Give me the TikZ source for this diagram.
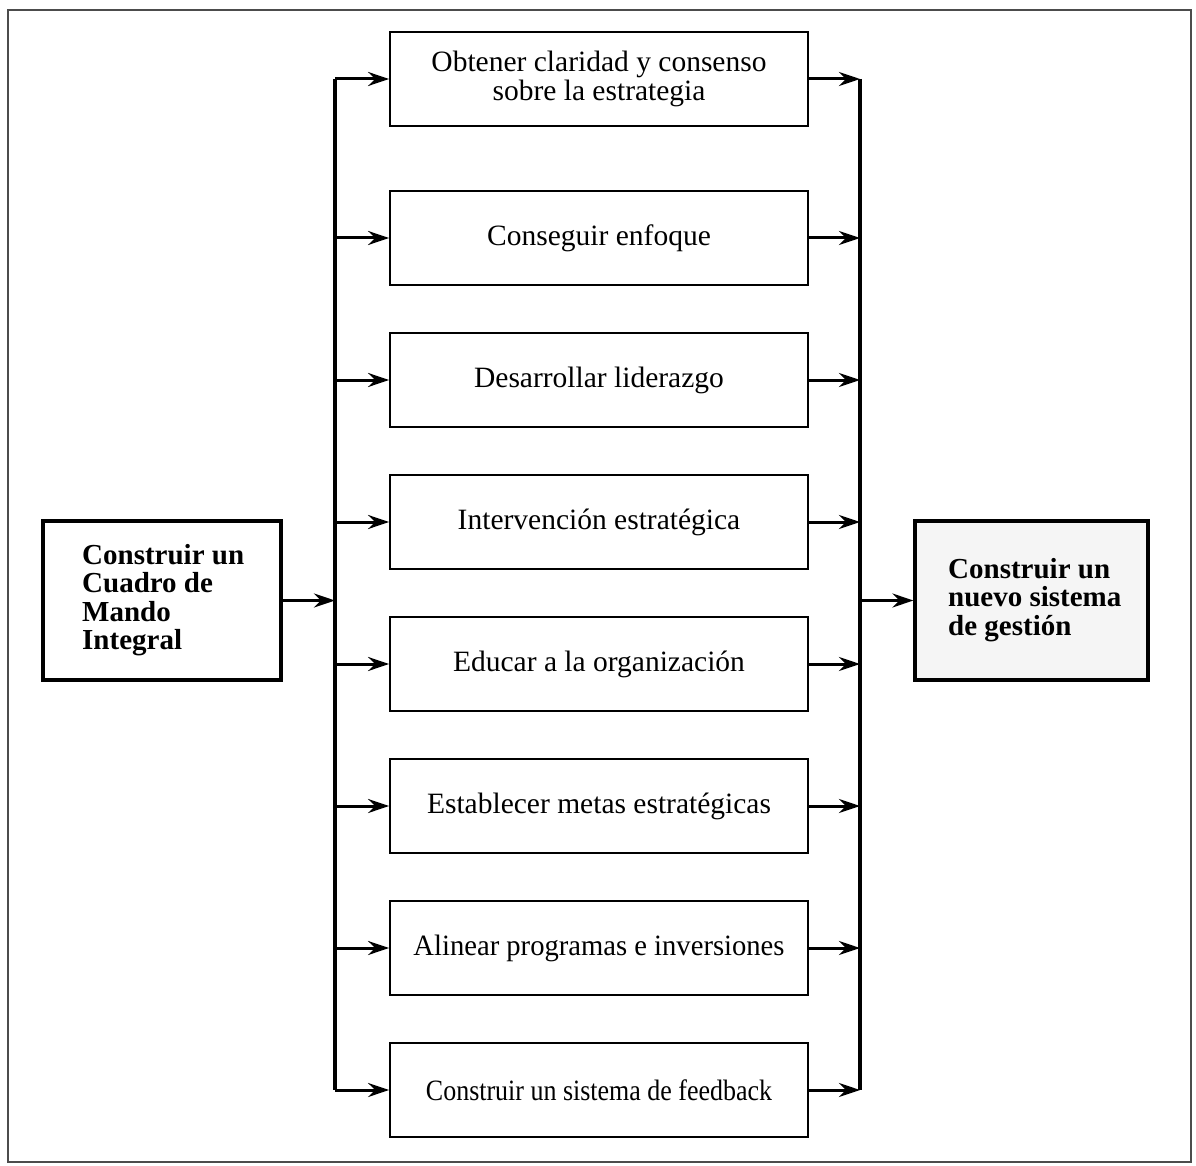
\documentclass[tikz,border=0pt]{standalone}
\usepackage{fontspec}
\setmainfont{Liberation Serif}
\usetikzlibrary{arrows.meta}
\begin{document}
\begin{tikzpicture}[x=1pt,y=-1pt,
  midbox/.style={draw, line width=1.8pt, minimum width=418pt, minimum height=94pt,
    inner sep=0pt, align=center, font=\fontsize{29.5}{29}\selectfont},
  sidebox/.style={draw, line width=3.2pt, minimum height=159pt, inner sep=0pt},
  sidetext/.style={anchor=west, align=left, inner sep=0pt, font=\fontsize{29}{28.5}\selectfont\bfseries},
  bus/.style={line width=3.2pt},
  arr/.style={line width=3pt, -{Stealth[length=21pt,width=14pt,inset=7pt]}}]
\useasboundingbox (0,0) rectangle (1196,1166);
\draw[black!70, line width=2pt] (8,10) rectangle (1191,1162);

\node[sidebox, minimum width=238pt] (left) at (162,600.5) {};
\node[sidetext] (lefttext) at (82,600) {Construir un\\Cuadro de\\Mando\\Integral};
\node[sidebox, minimum width=233pt, fill=black!4] (right) at (1031.5,600.5) {};
\node[sidetext] (righttext) at (948,600) {Construir un\\nuevo sistema\\de gestión};

\node[midbox] (b1) at (599,79) {Obtener claridad y consenso\\sobre la estrategia};
\node[midbox] (b2) at (599,238) {Conseguir enfoque};
\node[midbox] (b3) at (599,380) {Desarrollar liderazgo};
\node[midbox] (b4) at (599,522) {Intervención estratégica};
\node[midbox] (b5) at (599,664) {Educar a la organización};
\node[midbox] (b6) at (599,806) {Establecer metas estratégicas};
\node[midbox] (b7) at (599,948) {\scalebox{0.97}[1]{Alinear programas e inversiones}};
\node[midbox] (b8) at (599,1090) {\scalebox{0.88}[1]{Construir un sistema de feedback}};

\foreach \i/\y in {1/79,2/238,3/380,4/522,5/664,6/806,7/948,8/1090}{
  \coordinate (lb\i) at (335,\y);
  \coordinate (rb\i) at (860,\y);
}
\coordinate (lbm) at (335,600.5);
\coordinate (rbm) at (860,600.5);

\draw[bus] (lb1) -- (lb8);
\draw[bus] (rb1) -- (rb8);
\draw[arr] (left.east) -- (lbm);
\draw[arr] (rbm) -- (right.west);
\foreach \i in {1,...,8}{
  \draw[arr] (lb\i) -- (b\i.west);
  \draw[arr] (b\i.east) -- (rb\i);
}
\end{tikzpicture}
\end{document}
